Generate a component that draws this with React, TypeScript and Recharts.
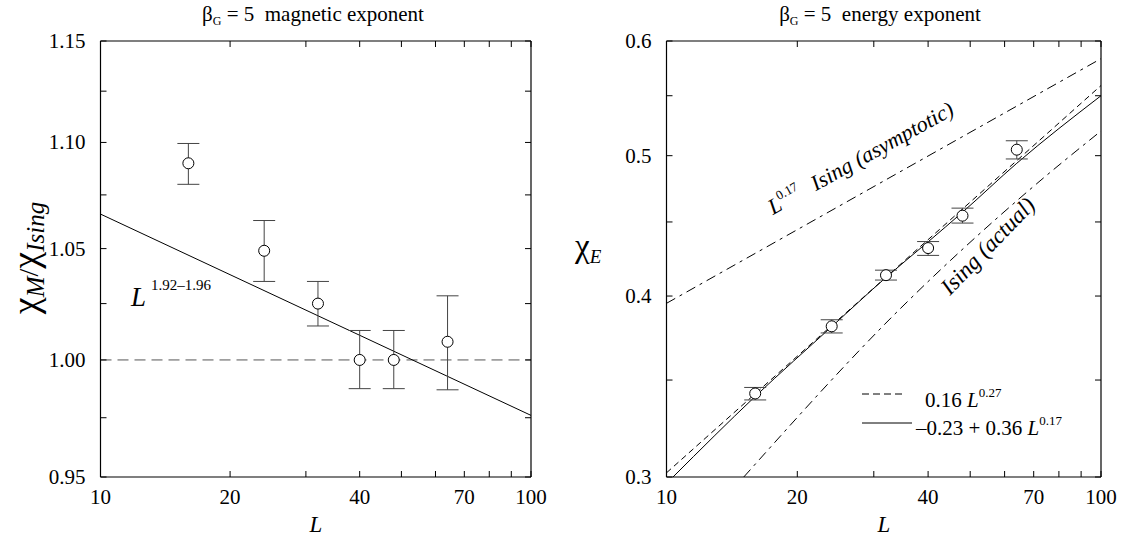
import React from 'react';
import { ComposedChart, XAxis, YAxis, Scatter, Line, ErrorBar, ReferenceLine } from 'recharts';

const FONT = "'Liberation Serif', 'Times New Roman', Times, serif";

// system size L (log axis, both panels)
const L_TICKS = [10, 20, 30, 40, 50, 60, 70, 80, 90, 100];
const L_LABELS = [10, 20, 40, 70, 100];

// left panel: chi_M / chi_Ising
const magL = [16, 24, 32, 40, 48, 64];
const magRatio = [1.09, 1.049, 1.025, 1.0, 1.0, 1.008];
const magLow = [1.08, 1.035, 1.015, 0.9875, 0.9875, 0.987];
const magHigh = [1.0995, 1.063, 1.035, 1.013, 1.013, 1.0285];
const magFitL = [10, 100];
const magFit = [1.066, 0.976];
const magRef = 1.0;
const MAG_TICKS = [0.95, 0.975, 1.0, 1.025, 1.05, 1.075, 1.1, 1.125, 1.15];
const MAG_LABELS = [0.95, 1.0, 1.05, 1.1, 1.15];

// right panel: chi_E
const enL = [16, 24, 32, 40, 48, 64];
const enChi = [0.3426, 0.3812, 0.4135, 0.4317, 0.4545, 0.5048];
const enLow = [0.3391, 0.3772, 0.4103, 0.4267, 0.4492, 0.4974];
const enHigh = [0.3459, 0.3852, 0.4168, 0.4362, 0.46, 0.512];
const powL = [10, 100];
const powFit = [0.302, 0.559]; // 0.16 L^0.27
const fitL = [10.35, 16, 24, 32, 40, 48, 64, 100];
const fitVals = [0.3, 0.341, 0.381, 0.412, 0.436, 0.457, 0.494, 0.55]; // -0.23 + 0.36 L^0.17
const asymL = [10, 100];
const asymVals = [0.3954, 0.5834]; // Ising asymptotic
const actualL = [15.06, 34.5, 71, 100];
const actualVals = [0.3, 0.392, 0.478, 0.52]; // Ising actual
const EN_TICKS = [0.3, 0.35, 0.4, 0.45, 0.5, 0.55, 0.6];
const EN_LABELS = [0.3, 0.4, 0.5, 0.6];

const pts = (xs: number[], ys: number[]) => xs.map((x, i) => ({ x, y: ys[i] }));
const errPts = (xs: number[], ys: number[], lo: number[], hi: number[]) =>
  xs.map((x, i) => ({ x, y: ys[i], err: [ys[i] - lo[i], hi[i] - ys[i]] }));

const has = (list: number[], v: number) => list.some(t => Math.abs(t - v) < 1e-6);
const TICK_LEN = 6;
const frame = { stroke: '#000', strokeWidth: 1.2 };

const bottomTick = (p: any) => (
  <g>
    <line x1={p.x} x2={p.x} y1={p.y} y2={p.y - TICK_LEN} stroke="#000" />
    {has(L_LABELS, p.payload.value) && (
      <text x={p.x} y={p.y + 27} textAnchor="middle" fontSize={21} fontFamily={FONT} fill="#000">
        {p.payload.value}
      </text>
    )}
  </g>
);
const topTick = (p: any) => (
  <line x1={p.x} x2={p.x} y1={p.y} y2={p.y + TICK_LEN} stroke="#000" />
);
const leftTick = (labels: number[], digits: number) => (p: any) => (
  <g>
    <line x1={p.x} x2={p.x + TICK_LEN} y1={p.y} y2={p.y} stroke="#000" />
    {has(labels, p.payload.value) && (
      <text x={p.x - 15} y={p.y + 7} textAnchor="end" fontSize={21} fontFamily={FONT} fill="#000">
        {p.payload.value.toFixed(digits)}
      </text>
    )}
  </g>
);
const rightTick = (p: any) => (
  <line x1={p.x} x2={p.x - TICK_LEN} y1={p.y} y2={p.y} stroke="#000" />
);

const OpenCircle = (p: any) => (
  <circle cx={p.cx} cy={p.cy} r={5.5} fill="#fff" stroke="#000" strokeWidth={1} />
);

// axes get 1px of room (0 would hide them), margins make up the rest
const axisCommon = {
  type: 'number' as const,
  scale: 'log' as const,
  allowDataOverflow: true,
  interval: 0 as const,
  tickSize: 0,
  tickMargin: 0,
  tickLine: false,
  axisLine: frame,
};

const App: React.FC = () => {
  return (
    <div style={{ position: 'absolute', left: 0, top: 0, width: 1123, height: 542, background: '#fff' }}>
      {/* magnetic exponent */}
      <ComposedChart
        width={560}
        height={542}
        margin={{ top: 40, right: 28, bottom: 64, left: 99.5 }}
        style={{ position: 'absolute', left: 0, top: 0 }}
      >
        <XAxis xAxisId="b" dataKey="x" domain={[10, 100]} ticks={L_TICKS} height={1} tick={bottomTick} {...axisCommon} />
        <XAxis xAxisId="t" orientation="top" dataKey="x" domain={[10, 100]} ticks={L_TICKS} height={1} tick={topTick} {...axisCommon} />
        <YAxis yAxisId="l" dataKey="y" domain={[0.95, 1.15]} ticks={MAG_TICKS} width={1} tick={leftTick(MAG_LABELS, 2)} {...axisCommon} />
        <YAxis yAxisId="r" orientation="right" domain={[0.95, 1.15]} ticks={MAG_TICKS} width={1} tick={rightTick} {...axisCommon} />
        <ReferenceLine xAxisId="b" yAxisId="l" y={magRef} stroke="#555" strokeDasharray="11 6" />
        <Line xAxisId="b" yAxisId="l" data={pts(magFitL, magFit)} dataKey="y" stroke="#000" strokeWidth={1} dot={false} activeDot={false} isAnimationActive={false} />
        <Scatter xAxisId="b" yAxisId="l" data={errPts(magL, magRatio, magLow, magHigh)} dataKey="y" shape={OpenCircle} isAnimationActive={false}>
          <ErrorBar dataKey="err" direction="y" width={11} stroke="#444" strokeWidth={1} isAnimationActive={false} />
        </Scatter>
      </ComposedChart>

      {/* energy exponent */}
      <ComposedChart
        width={563}
        height={542}
        margin={{ top: 40, right: 21, bottom: 64, left: 105.5 }}
        style={{ position: 'absolute', left: 560, top: 0 }}
      >
        <XAxis xAxisId="b" dataKey="x" domain={[10, 100]} ticks={L_TICKS} height={1} tick={bottomTick} {...axisCommon} />
        <XAxis xAxisId="t" orientation="top" dataKey="x" domain={[10, 100]} ticks={L_TICKS} height={1} tick={topTick} {...axisCommon} />
        <YAxis yAxisId="l" dataKey="y" domain={[0.3, 0.6]} ticks={EN_TICKS} width={1} tick={leftTick(EN_LABELS, 1)} {...axisCommon} />
        <YAxis yAxisId="r" orientation="right" domain={[0.3, 0.6]} ticks={EN_TICKS} width={1} tick={rightTick} {...axisCommon} />
        <Line xAxisId="b" yAxisId="l" data={pts(asymL, asymVals)} dataKey="y" stroke="#000" strokeWidth={1} strokeDasharray="10 5 3 5" dot={false} activeDot={false} isAnimationActive={false} />
        <Line xAxisId="b" yAxisId="l" data={pts(actualL, actualVals)} dataKey="y" type="monotone" stroke="#000" strokeWidth={1} strokeDasharray="10 5 3 5" dot={false} activeDot={false} isAnimationActive={false} />
        <Line xAxisId="b" yAxisId="l" data={pts(powL, powFit)} dataKey="y" stroke="#000" strokeWidth={1} strokeDasharray="6 4" dot={false} activeDot={false} isAnimationActive={false} />
        <Line xAxisId="b" yAxisId="l" data={pts(fitL, fitVals)} dataKey="y" type="monotone" stroke="#000" strokeWidth={1} dot={false} activeDot={false} isAnimationActive={false} />
        <Scatter xAxisId="b" yAxisId="l" data={errPts(enL, enChi, enLow, enHigh)} dataKey="y" shape={OpenCircle} isAnimationActive={false}>
          <ErrorBar dataKey="err" direction="y" width={11} stroke="#444" strokeWidth={1} isAnimationActive={false} />
        </Scatter>
      </ComposedChart>

      {/* titles, axis labels, annotations */}
      <svg width={1123} height={542} style={{ position: 'absolute', left: 0, top: 0, pointerEvents: 'none' }} fontFamily={FONT} fill="#000">
        <text x={313} y={21} textAnchor="middle" fontSize={21} style={{ whiteSpace: 'pre' }}>
          β<tspan fontSize={12} dy={4}>G</tspan><tspan dy={-4}> = 5  magnetic exponent</tspan>
        </text>
        <text x={880} y={21} textAnchor="middle" fontSize={21} style={{ whiteSpace: 'pre' }}>
          β<tspan fontSize={12} dy={4}>G</tspan><tspan dy={-4}> = 5  energy exponent</tspan>
        </text>

        <text transform="translate(38,258) rotate(-90)" textAnchor="middle" fontSize={38}>
          χ<tspan fontSize={25} fontStyle="italic" dy={6}>M</tspan>
          <tspan fontSize={28} dy={-6}>/</tspan>χ<tspan fontSize={25} fontStyle="italic" dy={6}>Ising</tspan>
        </text>
        <text x={575} y={257} fontSize={33}>
          χ<tspan fontSize={19} fontStyle="italic" dy={6}>E</tspan>
        </text>

        <text x={316} y={532} textAnchor="middle" fontSize={23} fontStyle="italic">L</text>
        <text x={884} y={532} textAnchor="middle" fontSize={23} fontStyle="italic">L</text>

        <text x={131} y={306} fontSize={27} fontStyle="italic">L</text>
        <text x={151} y={290} fontSize={15}>1.92–1.96</text>

        <text transform="translate(773,215) rotate(-29)" fontSize={22} style={{ whiteSpace: 'pre' }}>
          <tspan fontStyle="italic">L</tspan>
          <tspan fontSize={13} dy={-10}>0.17</tspan>
          <tspan fontStyle="italic" dy={10} dx={14}>Ising (asymptotic)</tspan>
        </text>
        <text transform="translate(950,296) rotate(-46)" fontSize={23} fontStyle="italic">
          Ising (actual)
        </text>

        <line x1={862} x2={902} y1={394} y2={394} stroke="#000" strokeDasharray="7 4" />
        <text x={925} y={407} fontSize={21}>
          0.16 <tspan fontStyle="italic">L</tspan><tspan fontSize={13} dy={-10}>0.27</tspan>
        </text>
        <line x1={862} x2={912} y1={423} y2={423} stroke="#000" />
        <text x={916} y={435} fontSize={21}>
          –0.23 + 0.36 <tspan fontStyle="italic">L</tspan><tspan fontSize={13} dy={-10}>0.17</tspan>
        </text>
      </svg>
    </div>
  );
};

export default App;
